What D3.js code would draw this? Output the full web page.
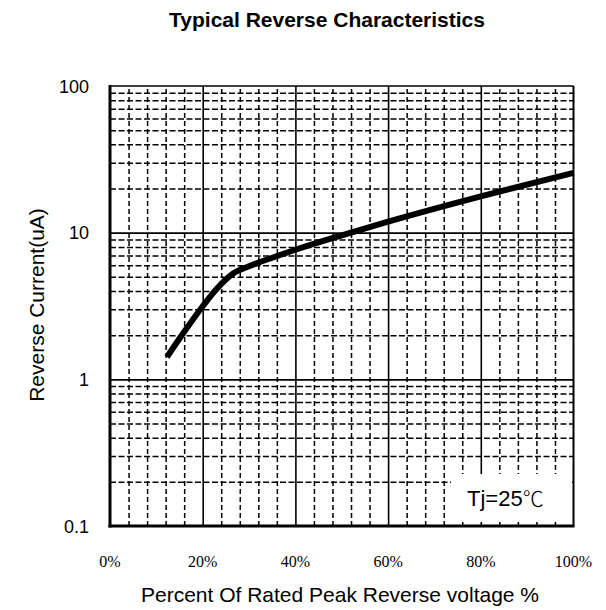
<!DOCTYPE html>
<html><head><meta charset="utf-8">
<script src="https://cdn.jsdelivr.net/npm/d3@7"></script>
<style>body{margin:0;background:#fff}svg{display:block}</style>
</head><body>
<svg id="c" width="606" height="610"></svg>
<script>
const pct = [12.3, 15.6, 20, 22.9, 26.5, 30, 35, 40, 50, 60, 80, 100];
const current = [1.42, 2.02, 3.15, 4.1, 5.25, 5.9, 6.75, 7.65, 9.6, 11.9, 17.7, 25.6];
const xTicks = [0, 20, 40, 60, 80, 100];
const xTickLabels = ["0%", "20%", "40%", "60%", "80%", "100%"];
const yTicks = [0.1, 1, 10, 100];
const yTickLabels = ["0.1", "1", "10", "100"];
const title = "Typical Reverse Characteristics";
const xTitle = "Percent Of Rated Peak Reverse voltage %";
const yTitle = "Reverse Current(uA)";
const legendMain = "Tj=25";
const legendUnit = "\u2103";

const L = 110, R = 573.5, T = 86, B = 526;
const svg = d3.select("#c");
const x = d3.scaleLinear().domain([0, 100]).range([L, R]);
const y = d3.scaleLog().domain([0.1, 100]).range([B, T]);

// minor grid
const xMinor = d3.range(4, 100, 4).filter(v => v % 20 !== 0);
const yMinor = [];
[0.1, 1, 10].forEach(d => { for (let k = 2; k <= 9; k++) yMinor.push(+(d * k).toPrecision(3)); });

const gMinX = svg.append("g").attr("transform", `translate(0,${B})`)
  .call(d3.axisBottom(x).tickValues(xMinor).tickSize(-(B - T)).tickFormat(""));
gMinX.select(".domain").remove();
gMinX.selectAll("line").attr("stroke", "#000").attr("stroke-width", 1.5).attr("stroke-dasharray", "5,3");

const gMinY = svg.append("g").attr("transform", `translate(${L},0)`)
  .call(d3.axisLeft(y).tickValues(yMinor).tickSize(-(R - L)).tickFormat(""));
gMinY.select(".domain").remove();
gMinY.selectAll("line").attr("stroke", "#000").attr("stroke-width", 1.5).attr("stroke-dasharray", "6,2.5");

// major grid
const gMajX = svg.append("g").attr("transform", `translate(0,${B})`)
  .call(d3.axisBottom(x).tickValues([20, 40, 60, 80]).tickSize(-(B - T)).tickFormat(""));
gMajX.select(".domain").remove();
gMajX.selectAll("line").attr("stroke", "#000").attr("stroke-width", 1.6);

const gMajY = svg.append("g").attr("transform", `translate(${L},0)`)
  .call(d3.axisLeft(y).tickValues([1, 10]).tickSize(-(R - L)).tickFormat(""));
gMajY.select(".domain").remove();
gMajY.selectAll("line").attr("stroke", "#000").attr("stroke-width", 1.6);

// legend box
svg.append("rect").attr("x", 451).attr("y", 474).attr("width", R - 1.5 - 451).attr("height", 48).attr("fill", "#fff");
const lt = svg.append("text").attr("x", 467).attr("y", 506).attr("font-family", "Liberation Sans, Arial, sans-serif")
  .attr("font-size", 22).text(legendMain);
lt.append("tspan").attr("font-family", "Noto Sans CJK SC").attr("font-weight", 300).attr("font-size", 21).text(legendUnit);

// border
svg.append("line").attr("x1", L).attr("x2", R).attr("y1", T).attr("y2", T).attr("stroke", "#000").attr("stroke-width", 1.5);
svg.append("line").attr("x1", R).attr("x2", R).attr("y1", T).attr("y2", B).attr("stroke", "#000").attr("stroke-width", 2);
svg.append("line").attr("x1", L).attr("x2", L).attr("y1", T - 1).attr("y2", B + 1.5).attr("stroke", "#000").attr("stroke-width", 3);
svg.append("line").attr("x1", L - 1.5).attr("x2", R + 1).attr("y1", B).attr("y2", B).attr("stroke", "#000").attr("stroke-width", 3);

// curve
const data = pct.map((p, i) => [p, current[i]]);
svg.append("path").datum(data)
  .attr("d", d3.line().x(d => x(d[0])).y(d => y(d[1])).curve(d3.curveMonotoneX))
  .attr("fill", "none").attr("stroke", "#000").attr("stroke-width", 6);

// tick labels
svg.append("g").selectAll("text").data(yTicks).join("text")
  .attr("x", 89).attr("y", d => y(d) + 6.5).attr("text-anchor", "end")
  .attr("font-family", "Liberation Sans, Arial, sans-serif").attr("font-size", 18)
  .text((d, i) => yTickLabels[i]);
svg.append("g").selectAll("text").data(xTicks).join("text")
  .attr("x", d => x(d)).attr("y", 567).attr("text-anchor", "middle")
  .attr("font-family", "Liberation Serif, Times New Roman, serif").attr("font-size", 16)
  .text((d, i) => xTickLabels[i]);

// titles
svg.append("text").attr("x", 327).attr("y", 27).attr("text-anchor", "middle")
  .attr("font-family", "Liberation Sans, Arial, sans-serif").attr("font-weight", "bold").attr("font-size", 21)
  .text(title);
svg.append("text").attr("x", 340).attr("y", 601.5).attr("text-anchor", "middle")
  .attr("font-family", "Liberation Sans, Arial, sans-serif").attr("font-size", 21).text(xTitle);
svg.append("text").attr("transform", `translate(43.5,305) rotate(-90)`).attr("text-anchor", "middle")
  .attr("font-family", "Liberation Sans, Arial, sans-serif").attr("font-size", 21).text(yTitle);
</script>
</body></html>
